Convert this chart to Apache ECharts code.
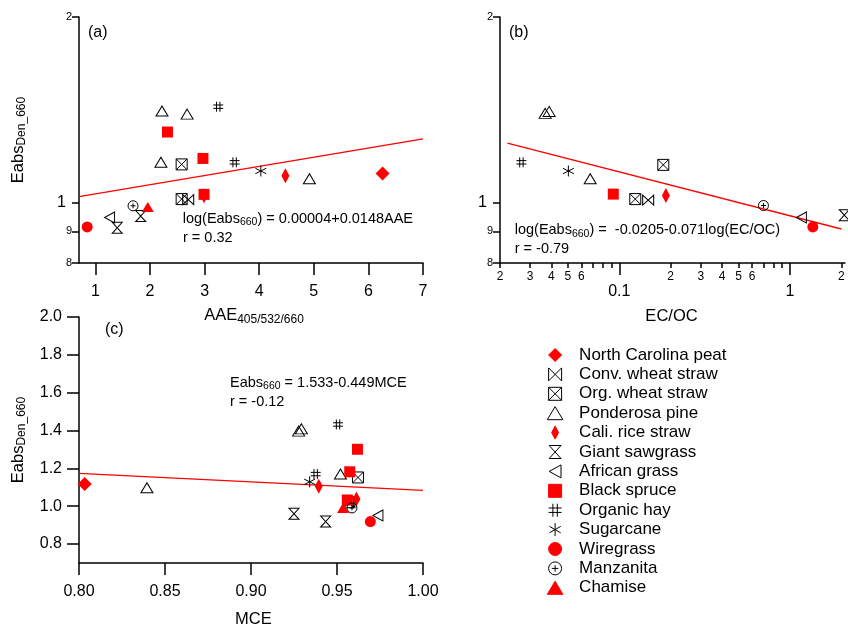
<!DOCTYPE html>
<html><head><meta charset="utf-8">
<script src="https://cdn.jsdelivr.net/npm/echarts@6.0.0/dist/echarts.min.js"></script>
<style>html,body{margin:0;padding:0;background:#fff}#c{width:848px;height:627px}</style>
</head><body><div id="c"></div>
<script>
// ---------------- DATA ----------------
const speciesNames = ['North Carolina peat','Conv. wheat straw','Org. wheat straw','Ponderosa pine','Cali. rice straw','Giant sawgrass','African grass','Black spruce','Organic hay','Sugarcane','Wiregrass','Manzanita','Chamise'];

// Panel (a): Eabs vs AAE
const aAAE     = [6.26, 2.70, 2.58, 2.58, 2.22, 2.68, 2.20, 4.92, 4.48, 2.99, 1.40, 1.83, 1.26, 2.32, 2.97, 2.99, 3.25, 3.55, 4.03, 0.85, 1.69, 1.96];
const aEabs    = [1.117,1.013,1.155,1.015,1.409,1.393,1.164,1.095,1.107,1.028,0.912,0.953,0.948,1.303,1.181,1.033,1.432,1.164,1.127,0.915,0.990,0.986];
const aSpecies = [0,1,2,2,3,3,3,3,4,4,5,5,6,7,7,7,8,8,9,10,11,12];

// Panel (b): Eabs vs EC/OC
const bECOC    = [0.0368,0.0388,0.0675,0.0267,0.0503,0.0922,0.124,0.181,0.1476,0.1875,0.699,1.166,1.36,2.08];
const bEabs    = [1.397,1.407,1.095,1.164,1.127,1.034,1.015,1.153,1.011,1.029,0.991,0.948,0.915,0.956];
const bSpecies = [3,3,3,8,9,7,2,2,1,4,11,6,10,5];

// Panel (c): Eabs vs MCE
const cMCE     = [0.8033,0.8395,0.9277,0.9293,0.952,0.9506,0.9376,0.9619,0.9574,0.9560,0.9622,0.9565,0.9572,0.9341,0.9394,0.9613,0.925,0.9434,0.9587,0.9535,0.9694,0.9738];
const cEabs    = [1.117,1.098,1.397,1.409,1.170,1.432,1.170,1.301,1.182,1.033,1.152,1.021,1.020,1.129,1.105,1.038,0.960,0.919,0.991,0.990,0.919,0.951];
const cSpecies = [0,3,3,3,3,8,8,7,7,7,2,2,1,9,4,4,5,5,11,12,10,6];

// Fit lines (end points)
const fitAx = [0.7, 7.0],     fitAy = [1.024, 1.270];
const fitBx = [0.0221, 2.0],  fitBy = [1.250, 0.908];
const fitCx = [0.80, 1.00],   fitCy = [1.174, 1.084];

// Ticks
const aaeTicks   = [1,2,3,4,5,6,7];
const logYTicks  = [0.8, 0.9, 1, 2];
const logYLabels = ['8','9','1','2'];
const ecocMajor  = [0.1, 1];
const ecocMinor  = [0.02,0.03,0.04,0.05,0.06,0.07,0.08,0.09,0.2,0.3,0.4,0.5,0.6,0.7,0.8,0.9,2];
const ecocMinorLabeled = [0.02,0.03,0.04,0.05,0.06,0.2,0.3,0.4,0.5,0.6,2];
const mceTicks   = [0.80,0.85,0.90,0.95,1.00];
const eabsCTicks = [0.8,1.0,1.2,1.4,1.6,1.8,2.0];

// ---------------- STYLE ----------------
const FONT = "'Liberation Sans', Arial, Helvetica, sans-serif";
const RED = '#ff0000';
const NONE = 'rgba(0,0,0,0)';
const SYM = [
  {s:'path://M7,0L14,7L7,14L0,7Z', z:[14,14], f:RED, b:RED, w:0},
  {s:'path://M0,0L10,10L10,0L0,10Z', z:[11,10], f:NONE, b:'#000', w:1},
  {s:'path://M0,0L10,0L10,10L0,10Z M0,0L10,10 M10,0L0,10', z:[11,11], f:NONE, b:'#000', w:1},
  {s:'path://M6,0L12,10L0,10Z', z:[12,10], f:NONE, b:'#000', w:1},
  {s:'path://M4,0L8,7.5L4,15L0,7.5Z', z:[8,15], f:RED, b:RED, w:0},
  {s:'path://M0,0L10,0L0,11L10,11Z', z:[10,11], f:NONE, b:'#000', w:1},
  {s:'path://M10,0L0,5.5L10,11Z', z:[10,11], f:NONE, b:'#000', w:1},
  {s:'path://M0,0L10,0L10,10L0,10Z', z:[11,11], f:RED, b:RED, w:0},
  {s:'path://M3.3,0L3.3,10M6.7,0L6.7,10M0,3.3L10,3.3M0,6.7L10,6.7', z:[10,10], f:NONE, b:'#000', w:1},
  {s:'path://M5,0L5,10M0.67,2.5L9.33,7.5M0.67,7.5L9.33,2.5', z:[11,11], f:NONE, b:'#000', w:1},
  {s:'circle', z:[11,11], f:RED, b:RED, w:0},
  {s:'path://M0,5A5,5 0 1 1 10,5A5,5 0 1 1 0,5Z M5,2.5L5,7.5M2.5,5L7.5,5', z:[10,10], f:NONE, b:'#000', w:1},
  {s:'path://M6,0L12,10L0,10Z', z:[12,10], f:RED, b:RED, w:0}
];

const L = Math.log10;
const ident = v => v;

function panelSeries(xs, ys, sp, xi, yi, tx, ty) {
  const out = [];
  speciesNames.forEach((name, k) => {
    const pts = [];
    sp.forEach((s, i) => { if (s === k) pts.push([tx(xs[i]), ty(ys[i])]); });
    if (!pts.length) return;
    const st = SYM[k];
    out.push({
      type:'scatter', name, xAxisIndex:xi, yAxisIndex:yi, data:pts,
      symbol:st.s, symbolSize:st.z, symbolKeepAspect:false, clip:false, silent:true,
      itemStyle:{color:st.f, borderColor:st.b, borderWidth:st.w, opacity:1},
      emphasis:{disabled:true}, z:3
    });
  });
  return out;
}
function fitSeries(xs, ys, xi, yi, tx, ty) {
  return {type:'line', xAxisIndex:xi, yAxisIndex:yi, data: xs.map((x,i)=>[tx(x), ty(ys[i])]),
    showSymbol:false, symbol:'none', silent:true, clip:false, lineStyle:{color:RED, width:1.3}, z:2,
    emphasis:{disabled:true}};
}

const lineStyle = {color:'#000', width:1.5};
function mkAxis(o) {
  return {
    type:'value', gridIndex:o.grid, min:o.min, max:o.max, position:o.pos,
    axisLine:{show:o.line !== false, onZero:false, lineStyle},
    axisTick:{show:true, inside:false, length:o.tickLen, customValues:o.ticks, lineStyle:{color:'#000', width:1.5}},
    axisLabel:{show:true, customValues:o.labels, margin:o.margin, formatter:o.fmt, color:'#000',
               fontSize:o.fs, fontFamily:FONT, rich:o.rich},
    splitLine:{show:false}, minorTick:{show:false}, axisPointer:{show:false}
  };
}
const logYFmt = v => {
  let k = 0;
  logYTicks.forEach((t,i) => { if (Math.abs(L(t) - v) < 1e-6) k = i; });
  const lab = logYLabels[k];
  return lab === '1' ? '{b|1}' : '{s|' + lab + '}';
};
const logYRich = {b:{fontSize:16, fontFamily:FONT, color:'#000', padding:[0,6,0,0]}, s:{fontSize:11, fontFamily:FONT, color:'#000'}};

// rich text with subscript
function subText(x, y, parts, o) {
  const fm = o.fm, fs = o.fs, dy = o.dy;
  const mLH = fm + 2, sLH = fs + 1;
  const H = Math.max(mLH, sLH + dy);
  const off = H/2 - mLH/2;
  const text = parts.map(p => p[1] ? '{s|' + p[0] + '}' : '{m|' + p[0] + '}').join('');
  const rot = o.rot || 0;
  return {
    type:'text', silent:true, rotation:rot,
    x: rot ? x + off : x, y: rot ? y : y + off,
    style:{text, align:o.align || 'left', verticalAlign:'middle', fill:'#000', fontFamily:FONT, fontSize:fm,
      rich:{
        m:{fontSize:fm, lineHeight:mLH, verticalAlign:'top', fontFamily:FONT, fill:'#000'},
        s:{fontSize:fs, lineHeight:sLH, verticalAlign:'bottom', padding:[dy,0,0,0], fontFamily:FONT, fill:'#000'}
      }}
  };
}
function plainText(x, y, t, fsz, align) {
  return {type:'text', silent:true, x, y, style:{text:t, align:align||'left', verticalAlign:'middle', fill:'#000', fontFamily:FONT, fontSize:fsz}};
}

const series = [].concat(
  [fitSeries(fitAx, fitAy, 0, 0, ident, L)],
  panelSeries(aAAE, aEabs, aSpecies, 0, 0, ident, L),
  [fitSeries(fitBx, fitBy, 1, 1, L, L)],
  panelSeries(bECOC, bEabs, bSpecies, 1, 1, L, L),
  [fitSeries(fitCx, fitCy, 3, 2, ident, ident)],
  panelSeries(cMCE, cEabs, cSpecies, 3, 2, ident, ident)
);

const option = {
  animation:false,
  backgroundColor:'#fff',
  textStyle:{fontFamily:FONT},
  grid:[
    {left:79, top:17, width:344, height:246, outerBoundsMode:'none', containLabel:false},
    {left:500, top:17, width:345, height:246, outerBoundsMode:'none', containLabel:false},
    {left:79, top:317, width:344, height:246, outerBoundsMode:'none', containLabel:false}
  ],
  xAxis:[
    mkAxis({grid:0, min:0.7, max:7, pos:'bottom', tickLen:12, ticks:aaeTicks, labels:aaeTicks, margin:21, fs:16}),
    mkAxis({grid:1, min:L(0.02), max:L(2.1), pos:'bottom', tickLen:12, ticks:ecocMajor.map(L), labels:ecocMajor.map(L), margin:21, fs:16,
            fmt: v => Math.abs(v) < 1e-6 ? '1' : '0.1'}),
    mkAxis({grid:1, min:L(0.02), max:L(2.1), pos:'bottom', line:false, tickLen:5, ticks:ecocMinor.map(L), labels:ecocMinorLabeled.map(L), margin:8, fs:12,
            fmt: v => String(Math.round(Math.pow(10, v - Math.floor(v + 1e-9))))}),
    mkAxis({grid:2, min:0.8, max:1.0, pos:'bottom', tickLen:12, ticks:mceTicks, labels:mceTicks, margin:21, fs:16,
            fmt: v => v.toFixed(2)})
  ],
  yAxis:[
    mkAxis({grid:0, min:L(0.8), max:L(2), pos:'left', tickLen:7, ticks:logYTicks.map(L), labels:logYTicks.map(L), margin:7, fs:11, fmt:logYFmt, rich:logYRich}),
    mkAxis({grid:1, min:L(0.8), max:L(2), pos:'left', tickLen:7, ticks:logYTicks.map(L), labels:logYTicks.map(L), margin:7, fs:11, fmt:logYFmt, rich:logYRich}),
    mkAxis({grid:2, min:0.7, max:2.0, pos:'left', tickLen:12, ticks:eabsCTicks, labels:eabsCTicks, margin:17, fs:16,
            fmt: v => v.toFixed(1)})
  ],
  legend:{
    orient:'vertical', left:546.8, top:345.3, padding:0, itemGap:0, itemWidth:38, itemHeight:13,
    symbolKeepAspect:true, selectedMode:false, data:speciesNames,
    itemStyle:{borderWidth:1},
    textStyle:{fontSize:17, fontFamily:FONT, color:'#000', lineHeight:19.4}
  },
  graphic:[
    plainText(88, 33, '(a)', 16),
    plainText(509, 33, '(b)', 16),
    plainText(105, 329.5, '(c)', 16),
    subText(182.7, 218.7, [['log(Eabs',0],['660',1],[') = 0.00004+0.0148AAE',0]], {fm:14.5, fs:10.5, dy:7}),
    plainText(183, 238.3, 'r = 0.32', 14.5),
    subText(514.7, 230.2, [['log(Eabs',0],['660',1],[') =  -0.0205-0.071log(EC/OC)',0]], {fm:14.5, fs:10.5, dy:7}),
    plainText(514.7, 249, 'r = -0.79', 14.5),
    subText(230, 382.7, [['Eabs',0],['660',1],[' = 1.533-0.449MCE',0]], {fm:14.5, fs:10.5, dy:7}),
    plainText(230, 401.7, 'r = -0.12', 14.5),
    subText(254, 314.5, [['AAE',0],['405/532/660',1]], {fm:16.5, fs:12, dy:9, align:'center'}),
    plainText(671.5, 316, 'EC/OC', 16.5, 'center'),
    plainText(253.3, 619.5, 'MCE', 16.5, 'center'),
    subText(17, 140, [['Eabs',0],['Den_660',1]], {fm:16.5, fs:12, dy:9, align:'center', rot:Math.PI/2}),
    subText(17, 440, [['Eabs',0],['Den_660',1]], {fm:16.5, fs:12, dy:9, align:'center', rot:Math.PI/2})
  ],
  series
};
const chart = echarts.init(document.getElementById('c'), null, {renderer:'canvas'});
chart.setOption(option);
</script>
</body></html>
